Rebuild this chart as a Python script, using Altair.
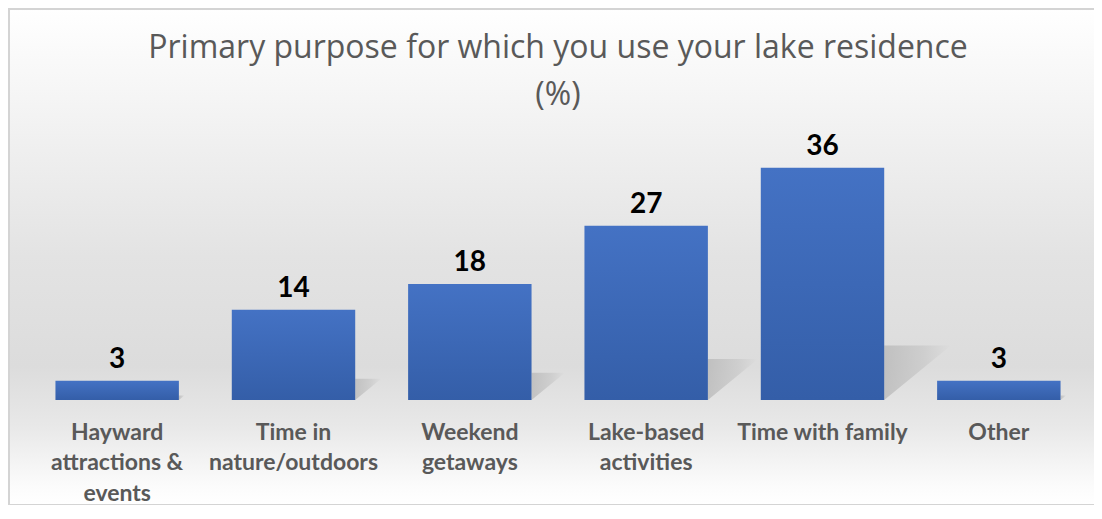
import altair as alt
import pandas as pd

categories = [
    "Hayward\nattractions &\nevents",
    "Time in\nnature/outdoors",
    "Weekend\ngetaways",
    "Lake-based\nactivities",
    "Time with family",
    "Other",
]
values = [3, 14, 18, 27, 36, 3]
title_lines = ["Primary purpose for which you use your lake residence", "(%)"]

df = pd.DataFrame({"category": categories, "value": values, "idx": list(range(len(values)))})

W, H = 1058, 258
GRAY = "#595959"

bg = alt.Chart(alt.Data(values=[{}])).mark_rect(
    color=alt.Gradient(
        gradient="linear", x1=0, x2=0, y1=0, y2=1,
        stops=[
            alt.GradientStop(offset=0, color="#ffffff"),
            alt.GradientStop(offset=0.25, color="#f1f1f1"),
            alt.GradientStop(offset=0.5, color="#e3e3e3"),
            alt.GradientStop(offset=0.72, color="#dcdcdc"),
            alt.GradientStop(offset=0.84, color="#e8e8e8"),
            alt.GradientStop(offset=0.96, color="#fbfbfb"),
            alt.GradientStop(offset=1, color="#ffffff"),
        ],
    ),
    stroke="#d4d4d4", strokeWidth=2,
).encode(
    x=alt.value(-20), x2=alt.value(W + 30),
    y=alt.value(-133), y2=alt.value(H + 105),
)

title_data = alt.Data(values=[{"t": title_lines[0], "line": 0}, {"t": title_lines[1], "line": 1}])
title = alt.Chart(title_data).mark_text(
    font="Open Sans", fontSize=32, color=GRAY, baseline="alphabetic", align="center",
).encode(
    x=alt.value(W / 2),
    y=alt.Y("line:Q", scale=alt.Scale(domain=[0, 1], range=[-84, -37]), axis=None),
    text="t:N",
)

# shadow triangles behind bars, derived from values
shadow = alt.Chart(df).transform_calculate(
    xr="datum.idx + 0.85",
    dx="datum.value * 0.0105",
    dy="datum.value * 0.235",
).transform_fold(["a", "b"], as_=["pt", "k"]).transform_calculate(
    px="datum.pt == 'a' ? datum.xr : datum.xr + datum.dx",
    ptop="datum.dy",
    pbot="datum.pt == 'a' ? 0 : datum.dy",
).mark_area(
    color=alt.Gradient(
        gradient="linear", x1=0, x2=1, y1=0, y2=0,
        stops=[
            alt.GradientStop(offset=0, color="#b4b4b4"),
            alt.GradientStop(offset=0.6, color="#c8c8c8"),
            alt.GradientStop(offset=1, color="#dddddd"),
        ],
    ),
    opacity=0.7,
).encode(
    x=alt.X("px:Q", scale=alt.Scale(domain=[0, 6], nice=False, zero=False), axis=None),
    y=alt.Y("ptop:Q", scale=alt.Scale(domain=[0, 40]), axis=None),
    y2="pbot:Q",
    detail="category:N",
)

xenc = alt.X(
    "category:N", sort=None, title=None,
    scale=alt.Scale(paddingInner=0.3, paddingOuter=0.15),
    axis=alt.Axis(
        labelExpr="split(datum.label, '\\n')",
        labelAngle=0, labelFont="Lato", labelFontWeight="bold",
        labelFontSize=23, labelColor=GRAY, labelLineHeight=30.5,
        labelPadding=21, domain=False, ticks=False, grid=False,
        labelLimit=300, zindex=2,
    ),
)
yenc = alt.Y("value:Q", scale=alt.Scale(domain=[0, 40]), axis=None)

bars = alt.Chart(df).mark_bar(
    color=alt.Gradient(
        gradient="linear", x1=0, x2=0, y1=0, y2=1,
        stops=[
            alt.GradientStop(offset=0, color="#4472c4"),
            alt.GradientStop(offset=1, color="#345ea8"),
        ],
    ),
).encode(x=xenc, y=yenc)

labels = alt.Chart(df).mark_text(
    font="Lato", fontWeight="bold", fontSize=28, color="#000000",
    baseline="alphabetic", dy=-13,
).encode(
    x=alt.X("category:N", sort=None, scale=alt.Scale(paddingInner=0.3, paddingOuter=0.15), axis=None),
    y=yenc, text="value:Q",
)

chart = alt.layer(bg, title, shadow, bars, labels).resolve_scale(
    x="independent", y="independent"
).properties(
    width=W, height=H,
    autosize=alt.AutoSizeParams(type="none"),
    padding={"left": 21, "top": 134, "right": 7, "bottom": 105},
).configure_view(stroke=None)

chart.save("out.html", embed_options={"renderer": "svg", "actions": False})
